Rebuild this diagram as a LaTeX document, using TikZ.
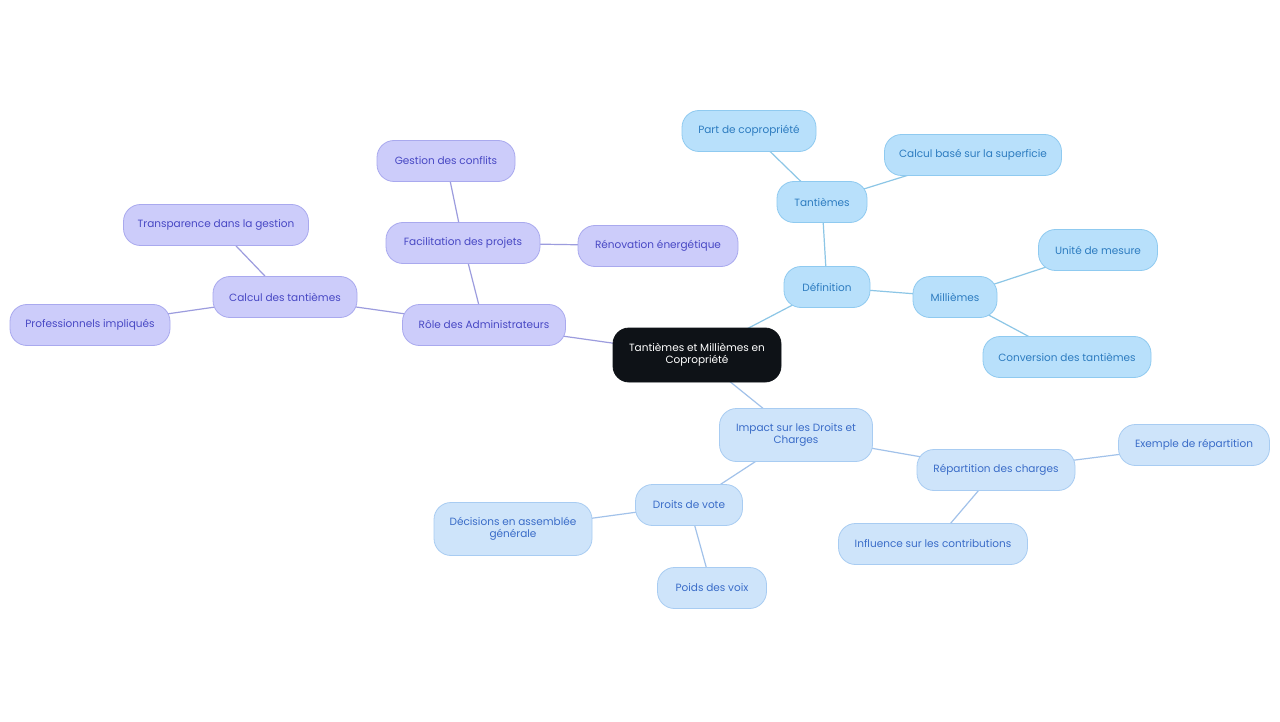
\documentclass[tikz,border=0pt]{standalone}
\usepackage{fontspec}
\setmainfont{Poppins}
\usetikzlibrary{backgrounds}
\definecolor{pfill}{HTML}{CCCCFA}
\definecolor{pdraw}{HTML}{A9A9EE}
\definecolor{ptext}{HTML}{4848C4}
\definecolor{pline}{HTML}{9C9CDE}
\definecolor{bfill}{HTML}{B8E0FB}
\definecolor{bdraw}{HTML}{8FCAF0}
\definecolor{btext}{HTML}{2D7CC0}
\definecolor{bline}{HTML}{8CC6E6}
\definecolor{lfill}{HTML}{CEE4FA}
\definecolor{ldraw}{HTML}{A8CCF2}
\definecolor{ltext}{HTML}{3A6CC8}
\definecolor{lline}{HTML}{A2C2EA}
\definecolor{cfill}{HTML}{0E1217}
\tikzset{
  mnode/.style={rounded corners=17pt, minimum height=41pt, align=center, inner sep=2pt, line width=0.8pt,
    font=\fontsize{10.5}{12}\selectfont},
  pnode/.style={mnode, fill=pfill, draw=pdraw, text=ptext},
  bnode/.style={mnode, fill=bfill, draw=bdraw, text=btext},
  lnode/.style={mnode, fill=lfill, draw=ldraw, text=ltext},
  cnode/.style={mnode, fill=cfill, draw=cfill, text=white, rounded corners=16pt},
  pedge/.style={draw=pline, line width=1.2pt},
  bedge/.style={draw=bline, line width=1.2pt},
  ledge/.style={draw=lline, line width=1.2pt},
}
\begin{document}
\begin{tikzpicture}[x=1pt,y=-1pt]
\useasboundingbox (0,0) rectangle (1280,722);
% center
\node[cnode, minimum width=168pt, minimum height=54pt] (c) at (697,355) {Tantièmes et Millièmes en\\Copropriété};
% blue branch
\node[bnode, minimum width=86pt] (def) at (827,287) {Définition};
\node[bnode, minimum width=90pt] (tant) at (822,202) {Tantièmes};
\node[bnode, minimum width=134pt] (part) at (749,131) {Part de copropriété};
\node[bnode, minimum width=177pt] (calc) at (973,155) {Calcul basé sur la superficie};
\node[bnode, minimum width=84pt] (mill) at (955,297) {Millièmes};
\node[bnode, minimum width=119pt] (unit) at (1098,250) {Unité de mesure};
\node[bnode, minimum width=168pt] (conv) at (1067,357) {Conversion des tantièmes};
% light branch
\node[lnode, minimum width=153pt, minimum height=53pt] (imp) at (796,435) {Impact sur les Droits et\\Charges};
\node[lnode, minimum width=158pt] (rep) at (996,470) {Répartition des charges};
\node[lnode, minimum width=151pt] (ex) at (1194,445) {Exemple de répartition};
\node[lnode, minimum width=189pt] (infl) at (933,544) {Influence sur les contributions};
\node[lnode, minimum width=107pt] (dv) at (689,505) {Droits de vote};
\node[lnode, minimum width=158pt, minimum height=53pt] (dec) at (513,529) {Décisions en assemblée\\générale};
\node[lnode, minimum width=109pt] (poids) at (712,588) {Poids des voix};
% purple branch
\node[pnode, minimum width=163pt] (role) at (484,325) {Rôle des Administrateurs};
\node[pnode, minimum width=154pt] (fac) at (463,243) {Facilitation des projets};
\node[pnode, minimum width=138pt] (gest) at (446,161) {Gestion des conflits};
\node[pnode, minimum width=160pt] (reno) at (658,246) {Rénovation énergétique};
\node[pnode, minimum width=144pt] (ctant) at (285,297) {Calcul des tantièmes};
\node[pnode, minimum width=185pt] (transp) at (216,225) {Transparence dans la gestion};
\node[pnode, minimum width=160pt] (prof) at (90,325) {Professionnels impliqués};
\begin{scope}[on background layer]
\fill[white] (0,0) rectangle (1280,722);
\draw[bedge] (c.center) -- (def.center);
\draw[bedge] (def.center) -- (tant.center);
\draw[bedge] (def.center) -- (mill.center);
\draw[bedge] (tant.center) -- (part.center);
\draw[bedge] (tant.center) -- (calc.center);
\draw[bedge] (mill.center) -- (unit.center);
\draw[bedge] (mill.center) -- (conv.center);
\draw[ledge] (c.center) -- (imp.center);
\draw[ledge] (imp.center) -- (rep.center);
\draw[ledge] (imp.center) -- (dv.center);
\draw[ledge] (rep.center) -- (ex.center);
\draw[ledge] (rep.center) -- (infl.center);
\draw[ledge] (dv.center) -- (dec.center);
\draw[ledge] (dv.center) -- (poids.center);
\draw[pedge] (c.center) -- (role.center);
\draw[pedge] (role.center) -- (fac.center);
\draw[pedge] (role.center) -- (ctant.center);
\draw[pedge] (fac.center) -- (gest.center);
\draw[pedge] (fac.center) -- (reno.center);
\draw[pedge] (ctant.center) -- (transp.center);
\draw[pedge] (ctant.center) -- (prof.center);
\end{scope}
\end{tikzpicture}
\end{document}
